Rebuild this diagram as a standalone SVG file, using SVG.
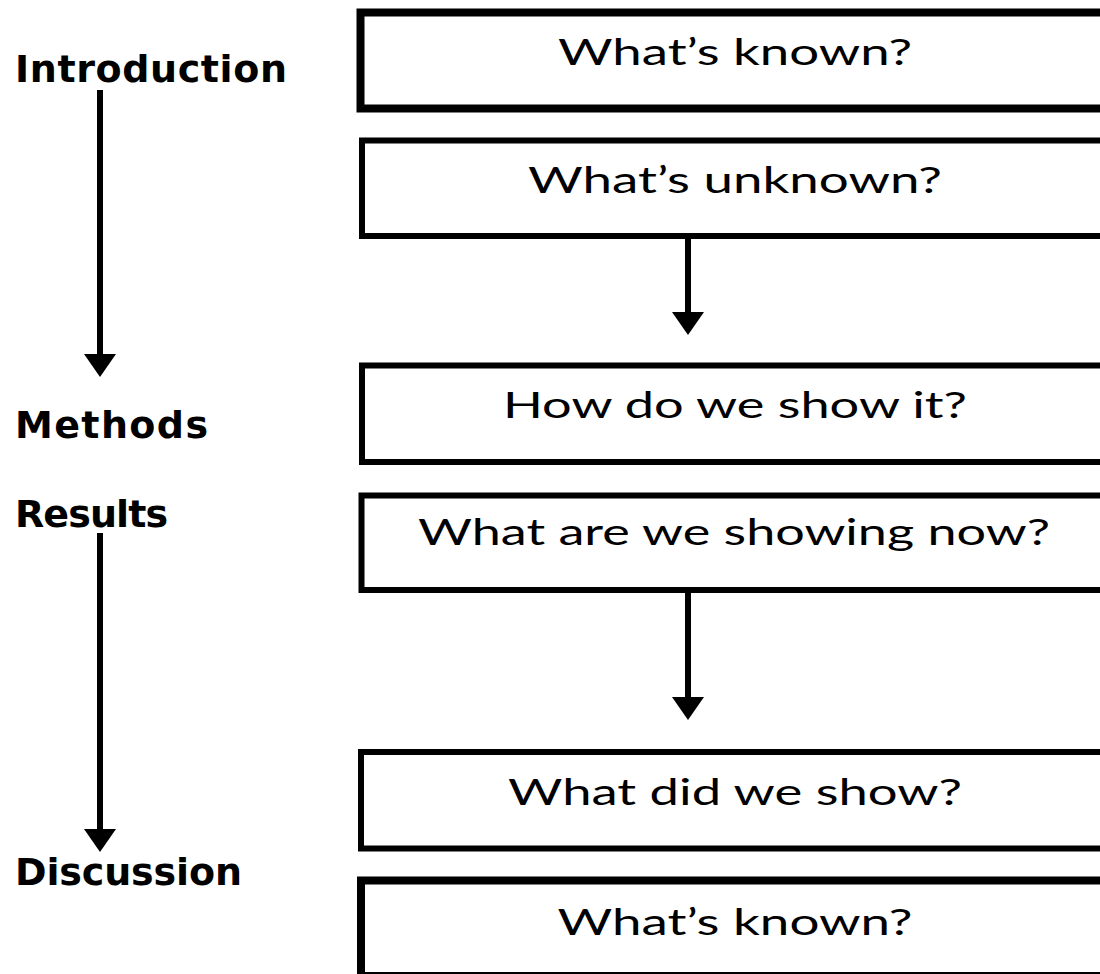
<svg xmlns="http://www.w3.org/2000/svg" width="1100" height="974" viewBox="0 0 1100 974">
<style>
.box{fill:#fff;stroke:#000;stroke-width:6}
.heavy{stroke-width:8}
.bt{font-family:Lato,"Open Sans","Liberation Sans",sans-serif;font-size:37px;fill:#000;text-anchor:middle}
.lbl{font-family:"DejaVu Sans","Liberation Sans",sans-serif;font-weight:bold;font-size:38px;fill:#000}
.arr{stroke:#000;stroke-width:6;fill:none;marker-end:url(#ah)}
</style>
<defs>
<marker id="ah" viewBox="0 0 23 32" refX="13" refY="16" markerWidth="23" markerHeight="32" orient="auto" markerUnits="userSpaceOnUse">
<path d="M0,0 L23,16 L0,32 z" fill="#000"/>
</marker>
</defs>
<rect width="1100" height="974" fill="#fff"/>
<g id="labels">
<g id="lbl-introduction"><text class="lbl" x="15" y="82" textLength="272">Introduction</text></g>
<g id="lbl-methods"><text class="lbl" x="15" y="438" textLength="193">Methods</text></g>
<g id="lbl-results"><text class="lbl" x="15" y="527" textLength="153">Results</text></g>
<g id="lbl-discussion"><text class="lbl" x="15" y="885" textLength="227">Discussion</text></g>
</g>
<g id="box-known1"><rect class="box heavy" x="360.5" y="12.5" width="760" height="96"/><text class="bt" x="735" y="65" textLength="354" lengthAdjust="spacingAndGlyphs">What’s known?</text></g>
<g id="box-unknown"><rect class="box" x="362" y="140.5" width="760" height="95.5"/><text class="bt" x="735" y="193" textLength="414" lengthAdjust="spacingAndGlyphs">What’s unknown?</text></g>
<g id="box-how"><rect class="box" x="362" y="365.5" width="760" height="96.5"/><text class="bt" x="735" y="418" textLength="464" lengthAdjust="spacingAndGlyphs">How do we show it?</text></g>
<g id="box-showing"><rect class="box" x="361.5" y="495.5" width="760" height="94.5"/><text class="bt" x="734" y="545" textLength="632" lengthAdjust="spacingAndGlyphs">What are we showing now?</text></g>
<g id="box-did"><rect class="box" x="361" y="752" width="760" height="96.5"/><text class="bt" x="735" y="805" textLength="454" lengthAdjust="spacingAndGlyphs">What did we show?</text></g>
<g id="box-known2"><rect class="box heavy" x="361" y="880.5" width="760" height="95.5"/><text class="bt" x="735" y="935" textLength="355" lengthAdjust="spacingAndGlyphs">What’s known?</text></g>
<g id="connectors">
<line class="arr" x1="100" y1="90" x2="100" y2="367"/>
<line class="arr" x1="100" y1="533" x2="100" y2="842"/>
<line class="arr" x1="688" y1="239" x2="688" y2="325"/>
<line class="arr" x1="688" y1="593" x2="688" y2="710"/>
</g>
</svg>
